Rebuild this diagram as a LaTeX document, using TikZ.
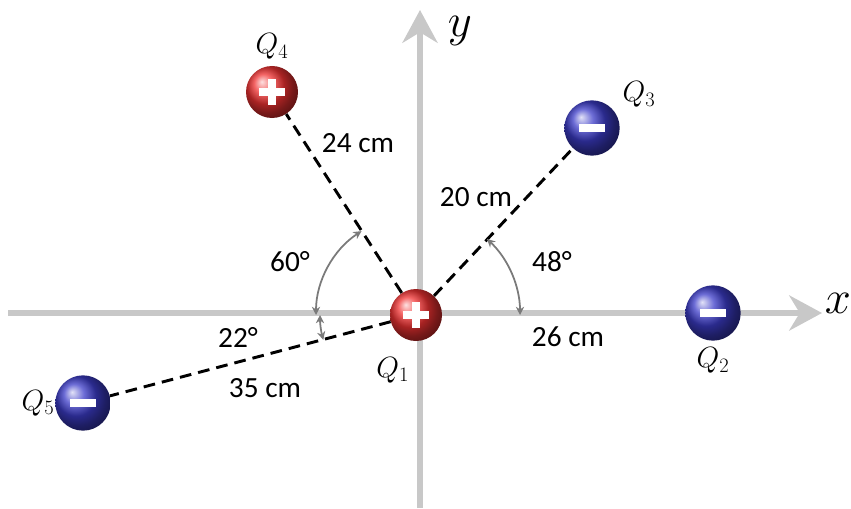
\RequirePackage{fix-cm}
\documentclass[tikz,border=0pt]{standalone}
\usepackage{fontspec}
\usepackage{xcolor}
\usepackage{tikz}
\usetikzlibrary{arrows.meta,positioning,calc}
\newfontfamily\lblfont{Carlito}
\definecolor{ChargeRed}{HTML}{F03232}
\definecolor{ChargeBlue}{HTML}{3C3CC8}
\definecolor{AxisGrey}{HTML}{C8C8C8}
\definecolor{AngGrey}{HTML}{7A7A7A}
\newcommand{\possign}{\color{white}\makebox[22pt]{\rule[-3.25pt]{22pt}{6.5pt}}\llap{\makebox[22pt]{\rule[-11pt]{6.5pt}{22pt}}}}
\newcommand{\negsign}{\color{white}\rule[-3pt]{22pt}{6pt}}

\begin{document}
\begin{tikzpicture}[
  x=0.03cm,y=0.03cm,
  every node/.style={font=\lblfont\fontsize{25}{30}\selectfont,align=center},
  charge/.style={circle,shade,inner sep=0pt,minimum size=1.56cm},
  poscharge/.style={charge,ball color=ChargeRed},
  negcharge/.style={charge,ball color=ChargeBlue,minimum size=1.66cm},
  qlab/.style={font=\fontsize{25}{29}\selectfont},
  axlab/.style={inner sep=0pt,font=\fontsize{40}{44}\selectfont},
  axis/.style={line width=4.5pt,AxisGrey,-{Stealth[length=28pt,width=30pt,inset=9pt]}},
  link/.style={line width=2.5pt,dash pattern=on 10pt off 6pt},
  ang/.style={line width=1.5pt,AngGrey,{Stealth[length=7pt,width=7pt]}-{Stealth[length=7pt,width=7pt]}}
]
\useasboundingbox (0,0) rectangle (851,-508);
% axes
\coordinate (xs) at (8,-313); \coordinate (xe) at (822,-313);
\coordinate (ys) at (420,-508); \coordinate (ye) at (420,-10);
\draw[axis] (xs)--(xe); \draw[axis] (ys)--(ye);
\node[axlab] (xlab) at (838,-303) {$x$};
\node[axlab] (ylab) at (460,-31) {$y$};
% charges
\node[poscharge] (q1) at (416,-315) {\possign};
\node[negcharge] (q2) at (713,-313) {\negsign};
\node[negcharge] (q3) at (592,-128) {\negsign};
\node[poscharge] (q4) at (272,-92) {\possign};
\node[negcharge] (q5) at (83,-403) {\negsign};
\node[qlab,below=3.6mm of q1,xshift=-7mm] (lq1) {$Q_1$};
\node[qlab,below=0.8mm of q2] (lq2) {$Q_2$};
\node[qlab,above right=-1mm and 2mm of q3] (lq3) {$Q_3$};
\node[qlab,above=0.6mm of q4] (lq4) {$Q_4$};
\node[qlab,left=-1mm of q5] (lq5) {$Q_5$};
% distances
\draw[link] (q1)--(q4); \draw[link] (q1)--(q3); \draw[link] (q1)--(q5);
\node (d4) at (358,-143) {24 cm};
\node (d3) at (476,-197) {20 cm};
\node (d2) at (568,-337) {26 cm};
\node (d5) at (265,-388) {35 cm};
% angles
\draw[ang] ($(q1)+(180:100)$) arc[start angle=180,end angle=123,radius=100];
\draw[ang] ($(q1)+(180:96)$) arc[start angle=180,end angle=195,radius=96];
\draw[ang] ($(q1)+(0:104)$) arc[start angle=0,end angle=47,radius=104];
\node (a4) at (290,-262) {60°};
\node (a3) at (552,-262) {48°};
\node (a5) at (238,-337) {22°};
\end{tikzpicture}
\end{document}
